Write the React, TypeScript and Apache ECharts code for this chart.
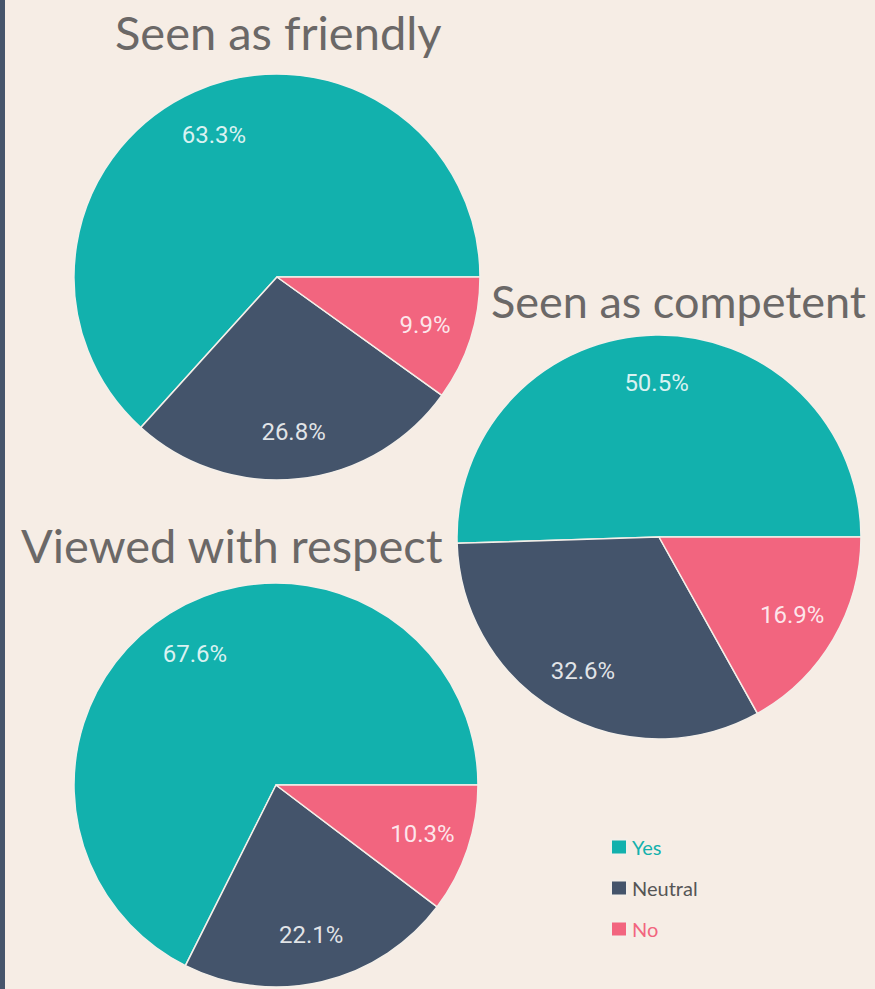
import React, { useEffect, useRef } from "react";
import * as echarts from "echarts";

const categories = ["Yes", "Neutral", "No"];
const friendlyValues = [63.3, 26.8, 9.9];
const competentValues = [50.5, 32.6, 16.9];
const respectValues = [67.6, 22.1, 10.3];
const chartTitles = ["Seen as friendly", "Seen as competent", "Viewed with respect"];

const COLORS = ["#12b1ad", "#44546b", "#f2657f"];
const TEXT_COLORS = ["#12b1ad", "#555555", "#f2657f"];

export default function App() {
  const ref = useRef<HTMLDivElement>(null);
  useEffect(() => {
    document.body.style.margin = "0";
    const chart = echarts.init(ref.current!, null, { renderer: "svg" });
    const pies = [
      { values: friendlyValues, center: [277, 277], r: 203 },
      { values: competentValues, center: [659, 537], r: 202 },
      { values: respectValues, center: [276, 785], r: 202 },
    ];
    const series: any[] = [];
    pies.forEach((p, i) => {
      const data = categories.map((c, k) => ({
        name: c,
        value: p.values[k],
        itemStyle: { color: COLORS[k] },
      }));
      series.push({
        type: "pie",
        name: chartTitles[i],
        center: p.center,
        radius: [0, p.r],
        startAngle: 0,
        clockwise: false,
        avoidLabelOverlap: false,
        label: { show: false },
        labelLine: { show: false },
        itemStyle: { borderColor: "#f4efe9", borderWidth: 1.5 },
        emphasis: { disabled: true },
        data,
      });
      series.push({
        type: "pie",
        name: chartTitles[i] + " labels",
        center: p.center,
        radius: [Math.round(p.r * 0.5), p.r],
        startAngle: 0,
        clockwise: false,
        silent: true,
        avoidLabelOverlap: false,
        legendHoverLink: false,
        label: {
          show: true,
          position: "inside",
          formatter: (prm: any) => prm.value.toFixed(1) + "%",
          color: "rgba(255,255,255,0.85)",
          fontFamily: "Roboto",
          fontSize: 24,
        },
        labelLine: { show: false },
        itemStyle: { color: "rgba(0,0,0,0)" },
        emphasis: { disabled: true },
        data: categories.map((c, k) => ({ name: c, value: p.values[k] })),
      });
    });
    const titleStyle = {
      fontFamily: "Lato",
      fontSize: 47,
      fontWeight: "normal",
      color: "#6b6867",
    };
    chart.setOption({
      animation: false,
      backgroundColor: "#f6ede5",
      title: [
        { text: chartTitles[0], left: 115, top: 8, padding: 0, textStyle: titleStyle },
        {
          text: chartTitles[1],
          left: 491,
          top: 278,
          padding: 0,
          textStyle: { ...titleStyle, fontSize: 45 },
        },
        { text: chartTitles[2], left: 21, top: 521, padding: 0, textStyle: titleStyle },
      ],
      legend: {
        orient: "vertical",
        left: 605,
        top: 832,
        itemWidth: 16,
        itemHeight: 15,
        itemGap: 21,
        icon: "rect",
        selectedMode: false,
        textStyle: { fontFamily: "Lato", fontSize: 20 },
        data: categories.map((c, k) => ({
          name: c,
          textStyle: { color: TEXT_COLORS[k] },
        })),
      },
      graphic: [
        {
          type: "rect",
          shape: { x: 0, y: 0, width: 5, height: 989 },
          style: { fill: "#46556b" },
        },
      ],
      series,
    });
    return () => chart.dispose();
  }, []);
  return <div ref={ref} style={{ width: 875, height: 989 }} />;
}
